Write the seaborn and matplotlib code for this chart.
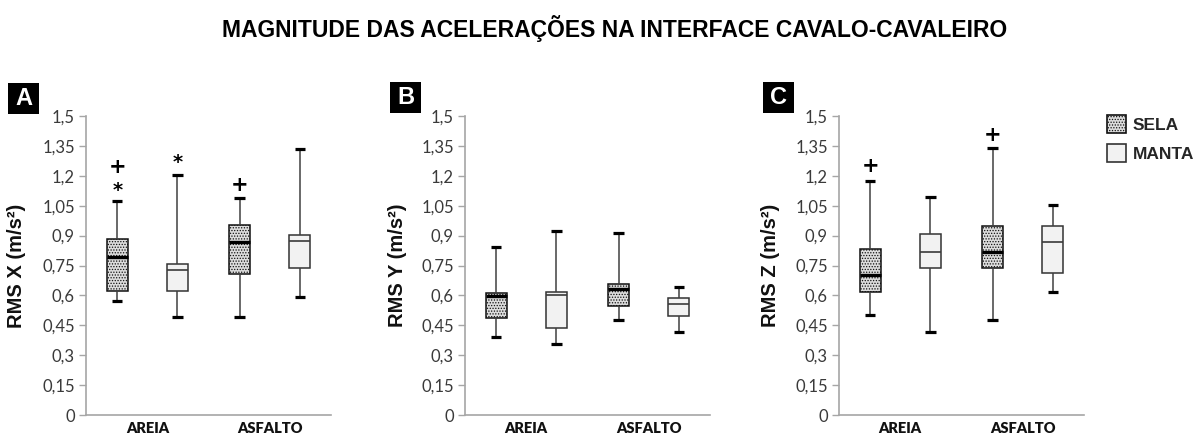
import matplotlib
matplotlib.use("Agg")
import matplotlib.pyplot as plt
from matplotlib.patches import Rectangle, Patch
import seaborn as sns
import pandas as pd

# ---------------- data ----------------
surfaces = ["AREIA", "ASFALTO"]
conditions = ["SELA", "MANTA"]
panel_letters = ["A", "B", "C"]
ylabels = ["RMS X (m/s²)", "RMS Y (m/s²)", "RMS Z (m/s²)"]
title = "MAGNITUDE DAS ACELERAÇÕES NA INTERFACE CAVALO-CAVALEIRO"
yticks = [0, 0.15, 0.3, 0.45, 0.6, 0.75, 0.9, 1.05, 1.2, 1.35, 1.5]
ytick_labels = ["0", "0,15", "0,3", "0,45", "0,6", "0,75", "0,9", "1,05", "1,2", "1,35", "1,5"]

# five-number summaries [min, Q1, median, Q3, max]
# order: SELA-AREIA, MANTA-AREIA, SELA-ASFALTO, MANTA-ASFALTO
rms_x = [[0.570, 0.622, 0.792, 0.881, 1.074],
         [0.492, 0.622, 0.729, 0.760, 1.202],
         [0.492, 0.706, 0.867, 0.955, 1.089],
         [0.593, 0.738, 0.872, 0.901, 1.336]]
rms_y = [[0.390, 0.485, 0.595, 0.612, 0.842],
         [0.355, 0.437, 0.600, 0.618, 0.925],
         [0.475, 0.548, 0.633, 0.655, 0.913],
         [0.418, 0.495, 0.558, 0.585, 0.643]]
rms_z = [[0.501, 0.618, 0.704, 0.831, 1.176],
         [0.417, 0.739, 0.816, 0.908, 1.096],
         [0.479, 0.739, 0.819, 0.950, 1.337],
         [0.615, 0.711, 0.866, 0.950, 1.052]]
box_surface = ["AREIA", "AREIA", "ASFALTO", "ASFALTO"]
box_condition = ["SELA", "MANTA", "SELA", "MANTA"]

# significance marks: (panel index, surface, condition, symbol, y)
marks_panel = [0, 0, 0, 0, 2, 2]
marks_surface = ["AREIA", "AREIA", "AREIA", "ASFALTO", "AREIA", "ASFALTO"]
marks_condition = ["SELA", "SELA", "MANTA", "SELA", "SELA", "SELA"]
marks_symbol = ["*", "+", "*", "+", "+", "+"]
marks_y = [1.128, 1.246, 1.268, 1.153, 1.25, 1.406]

# ---------------- styling ----------------
sns.set_style("white")
plt.rcParams["font.family"] = ["Liberation Sans", "DejaVu Sans"]
plt.rcParams["hatch.linewidth"] = 0.6

W, H = 1201, 437
fig = plt.figure(figsize=(W / 100, H / 100), dpi=100)

fill = {"SELA": "#dcdcdc", "MANTA": "#f2f2f2"}
edge = {"SELA": "#111111", "MANTA": "#333333"}
med_lw = {"SELA": 2.4, "MANTA": 1.2}
med_col = {"SELA": "#000000", "MANTA": "#3a3a3a"}

lefts_px = [86, 465, 839]
ylab_x = [-0.245, -0.237, -0.241]
letter_box_px = [(8, 83), (390, 82), (763, 82)]

datasets = [rms_x, rms_y, rms_z]
width_box = 0.98
gap = 0.65
for p, stats in enumerate(datasets):
    ax = fig.add_axes([lefts_px[p] / W, 22 / H, 245 / W, 299 / H])
    rows = []
    for s, c, five in zip(box_surface, box_condition, stats):
        for v in five:
            rows.append({"surface": s, "condition": c, "value": v})
    df = pd.DataFrame(rows)
    for cond in conditions:
        sub = df[df["condition"] == cond]
        sns.boxplot(
            data=sub, x="surface", y="value", hue="condition",
            order=surfaces, hue_order=conditions, dodge=True,
            width=width_box, gap=gap, whis=(0, 100),
            palette=fill, linecolor=edge[cond], linewidth=1.1,
            showfliers=False, legend=False, ax=ax,
            whiskerprops=dict(color="#404040", linewidth=1.1),
            capprops=dict(color="#000000", linewidth=2.3, solid_capstyle="butt"),
            medianprops=dict(color=med_col[cond], linewidth=med_lw[cond]),
            boxprops=dict(edgecolor=edge[cond]),
        )
    for patch in ax.patches:
        fc = patch.get_facecolor()
        if abs(fc[0] - 0xdc / 255) < 0.01:
            patch.set_hatch("......")
            patch.set_edgecolor("#111111")

    # significance marks
    offs = {"SELA": -width_box / 4, "MANTA": width_box / 4}
    for mp, ms, mc, sym, my in zip(marks_panel, marks_surface, marks_condition, marks_symbol, marks_y):
        if mp != p:
            continue
        xpos = surfaces.index(ms) + offs[mc]
        ax.text(xpos, my, sym, ha="center", va="center", fontsize=14 if sym == "*" else 15,
                fontweight="bold", color="black", family="DejaVu Sans")

    ax.set_ylim(0, 1.5)
    ax.set_xlim(-0.5, 1.5)
    ax.set_yticks(yticks)
    ax.set_yticklabels(ytick_labels, family="Lato", fontsize=12, color="#3a3a3a")
    ax.set_xticks([0, 1])
    ax.set_xticklabels(surfaces, family="Lato", fontsize=10.5, fontweight="heavy", color="#111111")
    ax.set_xticks([-0.5, 0.5, 1.5], minor=True)
    ax.tick_params(axis="x", which="major", length=0, pad=5)
    ax.tick_params(axis="x", which="minor", length=9, width=1, color="#a6a6a6", direction="out")
    ax.tick_params(axis="y", length=5, width=1, color="#a6a6a6", direction="out", pad=3, left=True)
    ax.set_xlabel("")
    ax.set_ylabel(ylabels[p], fontsize=14.5, fontweight="bold", color="#111111")
    ax.yaxis.set_label_coords(ylab_x[p], 0.5)
    for side in ["top", "right"]:
        ax.spines[side].set_visible(False)
    for side in ["left", "bottom"]:
        ax.spines[side].set_color("#a6a6a6")
        ax.spines[side].set_linewidth(1.2)

    # panel letter
    bx, by = letter_box_px[p]
    fig.patches.append(Rectangle((bx / W, 1 - (by + 31) / H), 31 / W, 31 / H,
                                 transform=fig.transFigure, facecolor="black",
                                 edgecolor="none", zorder=5))
    fig.text((bx + 15.5) / W, 1 - (by + 15.5) / H, panel_letters[p], color="white",
             fontsize=17, fontweight="bold", ha="center", va="center", zorder=6)

fig.text(615 / W, 1 - 28 / H, title, fontsize=16.5, fontweight="bold",
         ha="center", va="center", color="black")

handles = [Patch(facecolor=fill["SELA"], edgecolor="#111111", hatch="......", linewidth=1.2),
           Patch(facecolor=fill["MANTA"], edgecolor="#333333", linewidth=1.2)]
fig.legend(handles, conditions, loc="upper left", bbox_to_anchor=(1100 / W, 1 - 108 / H),
           frameon=False, prop={"family": "Liberation Sans", "weight": "bold", "size": 12.5},
           handlelength=1.1, handleheight=1.2, handletextpad=0.4, labelspacing=0.65,
           borderaxespad=0)

fig.savefig("out.png", dpi=100)
